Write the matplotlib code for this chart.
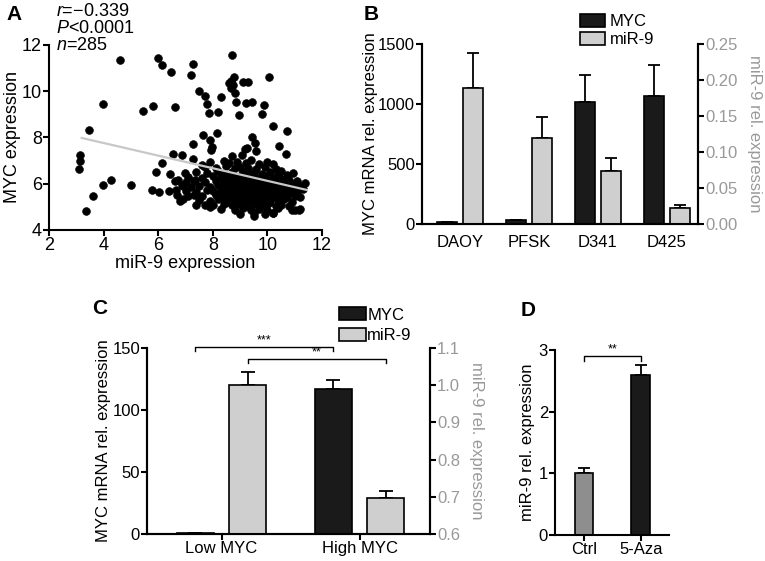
import matplotlib
matplotlib.use("Agg")
import matplotlib.pyplot as plt
from matplotlib.patches import Patch
import numpy as np

plt.rcParams['font.family'] = ['Liberation Sans', 'DejaVu Sans']
plt.rcParams['mathtext.fontset'] = 'custom'
plt.rcParams['mathtext.rm'] = 'Liberation Sans'
plt.rcParams['mathtext.it'] = 'Liberation Sans:italic'
plt.rcParams['axes.linewidth'] = 1.5
plt.rcParams['xtick.major.width'] = 1.5
plt.rcParams['ytick.major.width'] = 1.5
plt.rcParams['xtick.major.size'] = 4
plt.rcParams['ytick.major.size'] = 4
FS = 12
FSA = 13

# ---------------- Panel A data (scatter) ----------------
mir9_sparse = [3.13, 3.13, 3.10, 3.34, 3.48, 3.62, 3.99, 3.99, 4.27, 4.60, 5.00, 5.43, 5.82, 6.00,
               6.15, 6.47, 6.62, 5.76, 6.04, 5.92, 6.15, 6.55, 6.86, 6.43, 6.41, 6.64, 6.74, 6.88,
               6.68, 6.80, 7.26, 7.20, 8.69, 10.07, 8.60, 8.68, 8.78, 8.65, 8.75, 9.10, 9.28, 7.49,
               7.71, 8.30, 8.81, 7.77, 8.85, 9.20, 9.42, 9.89, 7.87, 8.20, 8.97, 9.79, 10.22, 10.70,
               7.63, 7.90, 7.97, 8.14, 7.26, 9.42, 9.55, 9.24, 10.44, 10.68, 9.58, 9.18, 9.06, 8.69,
               7.26, 7.59, 10.95, 11.38, 9.50, 10.22, 11.00, 11.17, 7.95, 6.98, 7.35, 6.90, 7.10,
               7.40, 7.90]
myc_sparse = [7.24, 7.00, 6.63, 4.84, 8.33, 5.47, 9.44, 5.93, 6.16, 11.36, 5.95, 9.15, 9.38, 11.43,
              11.14, 10.85, 9.34, 5.73, 5.66, 6.52, 6.89, 7.29, 7.25, 6.42, 5.70, 5.73, 6.16, 5.95,
              5.52, 5.27, 11.19, 10.71, 11.58, 10.61, 10.35, 10.45, 10.60, 10.15, 10.25, 10.40, 10.40, 10.03,
              9.80, 9.73, 9.94, 9.44, 9.55, 9.50, 9.55, 9.41, 9.08, 9.12, 8.98, 9.02, 8.50, 8.26,
              8.11, 7.90, 7.60, 8.19, 7.72, 8.04, 7.75, 7.54, 7.64, 7.28, 7.43, 7.49, 7.25, 7.20,
              7.06, 6.81, 6.45, 6.05, 4.60, 4.75, 4.87, 4.87, 7.45, 6.45, 6.16, 5.35, 5.45,
              5.08, 4.98]

mir9_dense = [7.9, 8.4, 8.6, 8.9, 9.2, 9.4, 9.7, 10.0, 10.2,
              7.7, 8.1, 8.5, 8.8, 9.0, 9.3, 9.6, 9.9, 10.3, 10.5,
              7.4, 7.8, 8.2, 8.4, 8.7, 9.1, 9.3, 9.5, 9.8, 10.1, 10.4, 10.7,
              7.1, 7.6, 8.0, 8.3, 8.6, 8.8, 9.0, 9.2, 9.5, 9.7, 9.9, 10.2, 10.5, 10.8, 11.1,
              6.6, 7.0, 7.3, 7.7, 8.1, 8.4, 8.7, 8.9, 9.1, 9.4, 9.6, 9.8, 10.0, 10.3, 10.6, 10.9, 11.2,
              6.9, 7.2, 7.5, 7.9, 8.2, 8.5, 8.8, 9.0, 9.3, 9.5, 9.7, 10.0, 10.2, 10.4, 10.7, 11.0, 11.3,
              7.0, 7.4, 7.8, 8.0, 8.3, 8.6, 8.9, 9.1, 9.4, 9.6, 9.9, 10.1, 10.3, 10.6, 10.8, 11.1,
              7.3, 7.6, 8.1, 8.4, 8.7, 8.9, 9.2, 9.5, 9.7, 10.0, 10.2, 10.5, 10.7, 11.0, 11.2,
              7.5, 7.9, 8.2, 8.5, 8.8, 9.0, 9.3, 9.6, 9.8, 10.1, 10.4, 10.6, 10.9,
              7.7, 8.0, 8.4, 8.7, 9.0, 9.2, 9.5, 9.8, 10.0, 10.3, 10.5, 10.8,
              8.3, 8.8, 9.1, 9.4, 9.7, 10.0, 10.4, 10.9, 11.2,
              9.0, 9.5, 9.9, 10.2]
myc_dense = [6.92, 7.00, 6.88, 6.95, 6.90, 7.02, 6.86, 6.93, 6.85,
             6.72, 6.68, 6.75, 6.66, 6.74, 6.70, 6.64, 6.71, 6.62, 6.55,
             6.50, 6.46, 6.53, 6.44, 6.49, 6.52, 6.45, 6.48, 6.42, 6.50, 6.40, 6.36,
             6.30, 6.26, 6.33, 6.28, 6.31, 6.24, 6.35, 6.27, 6.29, 6.22, 6.32, 6.25, 6.20, 6.18, 6.12,
             6.10, 6.06, 6.12, 6.08, 6.14, 6.05, 6.11, 6.07, 6.13, 6.04, 6.09, 6.12, 6.03, 6.08, 6.00, 5.98, 5.92,
             5.90, 5.86, 5.92, 5.88, 5.94, 5.85, 5.91, 5.87, 5.93, 5.84, 5.89, 5.92, 5.83, 5.88, 5.80, 5.86, 5.78,
             5.70, 5.66, 5.72, 5.68, 5.74, 5.65, 5.71, 5.67, 5.73, 5.64, 5.69, 5.72, 5.63, 5.68, 5.60, 5.66,
             5.50, 5.46, 5.52, 5.48, 5.54, 5.45, 5.51, 5.47, 5.53, 5.44, 5.49, 5.52, 5.43, 5.48, 5.42,
             5.30, 5.26, 5.32, 5.28, 5.34, 5.25, 5.31, 5.27, 5.33, 5.24, 5.29, 5.32, 5.23,
             5.10, 5.06, 5.12, 5.08, 5.14, 5.05, 5.11, 5.07, 5.13, 5.04, 5.09, 5.02,
             4.92, 4.88, 4.94, 4.86, 4.91, 4.87, 4.93, 4.85, 4.89,
             4.70, 4.74, 4.68, 4.72]

mir9_core = [8.45, 8.75, 9.05, 9.35, 9.65, 9.95, 10.25, 10.55,
             8.35, 8.65, 8.95, 9.25, 9.55, 9.85, 10.15, 10.45, 10.75,
             8.45, 8.75, 9.05, 9.35, 9.65, 9.95, 10.25, 10.55, 10.90,
             8.25, 8.55, 8.85, 9.15, 9.45, 9.75, 10.05, 10.35, 10.65,
             8.35, 8.65, 8.95, 9.25, 9.55, 9.85, 10.15, 10.45,
             8.55, 8.85, 9.15, 9.45, 9.75, 10.05]
myc_core = [6.20, 6.18, 6.22, 6.16, 6.21, 6.17, 6.19, 6.15,
            6.00, 5.97, 6.02, 5.99, 5.96, 6.01, 5.98, 5.95, 5.99,
            5.80, 5.78, 5.82, 5.79, 5.81, 5.77, 5.80, 5.78, 5.76,
            5.60, 5.58, 5.62, 5.59, 5.61, 5.57, 5.60, 5.58, 5.56,
            5.40, 5.38, 5.42, 5.39, 5.41, 5.37, 5.40, 5.36,
            5.20, 5.18, 5.22, 5.19, 5.21, 5.17]

fit_x = [3.2, 11.45]
fit_y = [7.98, 5.73]
stats_lines = ["$r$=\u22120.339", "$P$<0.0001", "$n$=285"]

# ---------------- Panel B data ----------------
cell_lines = ["DAOY", "PFSK", "D341", "D425"]
b_myc = [15, 35, 1015, 1065]
b_myc_err = [0, 0, 225, 260]
b_mir9 = [0.189, 0.119, 0.074, 0.0217]
b_mir9_err = [0.0485, 0.030, 0.018, 0.005]

# ---------------- Panel C data ----------------
groups_c = ["Low MYC", "High MYC"]
c_myc = [1, 117]
c_myc_err = [0, 7]
c_mir9 = [1.0, 0.697]
c_mir9_err = [0.035, 0.019]

# ---------------- Panel D data ----------------
groups_d = ["Ctrl", "5-Aza"]
d_mir9 = [1.0, 2.6]
d_mir9_err = [0.08, 0.15]

BLACK = "#1a1a1a"
LGRAY = "#cfcfcf"
MGRAY = "#8e8e8e"
TGRAY = "#999999"

W, H = 765, 561
fig = plt.figure(figsize=(W / 100, H / 100), dpi=100)


def px_axes(l, t, r, b):
    return fig.add_axes([l / W, 1 - b / H, (r - l) / W, (b - t) / H])


# ---------------- Panel A ----------------
axA = px_axes(49, 45, 322, 230)
axA.scatter(mir9_sparse + mir9_dense + mir9_core, myc_sparse + myc_dense + myc_core, s=32,
            color="black", edgecolors="black", linewidths=0.4, zorder=2)
axA.plot(fit_x, fit_y, color="#c8c8c8", lw=1.6, zorder=3)
axA.set_xlim(2, 12)
axA.set_ylim(4, 12)
axA.set_xticks([2, 4, 6, 8, 10, 12])
axA.set_yticks([4, 6, 8, 10, 12])
axA.spines[['top', 'right']].set_visible(False)
axA.tick_params(labelsize=FSA, pad=1)
axA.set_xlabel("miR-9 expression", fontsize=FSA, labelpad=1)
axA.set_ylabel("MYC expression", fontsize=FSA, labelpad=1)
for i, s in enumerate(stats_lines):
    fig.text(56 / W, 1 - (11 + 17.5 * i) / H, s, fontsize=FSA, va='center', ha='left')
fig.text(6 / W, 1 - 14 / H, "A", fontsize=15, fontweight='bold', va='center', ha='left')

# ---------------- Panel B ----------------
axB = px_axes(422, 44, 698, 224)
axB2 = axB.twinx()
xb = np.arange(len(cell_lines))
bw = 0.29
off = 0.185
axB.bar(xb - off, b_myc, bw, color=BLACK, edgecolor="black", lw=1.2, zorder=2)
axB.errorbar(xb - off, b_myc, yerr=[np.zeros(4), b_myc_err], fmt='none', ecolor='black',
             elinewidth=1.3, capsize=4, capthick=1.3, zorder=1)
axB2.bar(xb + off, b_mir9, bw, color=LGRAY, edgecolor="black", lw=1.2, zorder=2)
axB2.errorbar(xb + off, b_mir9, yerr=[np.zeros(4), b_mir9_err], fmt='none', ecolor='black',
              elinewidth=1.3, capsize=4, capthick=1.3, zorder=1)
axB.set_xlim(-0.55, 3.45)
axB.set_ylim(0, 1500)
axB2.set_ylim(0, 0.25)
axB.set_yticks([0, 500, 1000, 1500])
axB2.set_yticks([0, 0.05, 0.10, 0.15, 0.20, 0.25])
axB2.set_yticklabels(["0.00", "0.05", "0.10", "0.15", "0.20", "0.25"])
axB.set_xticks(xb)
axB.set_xticklabels(cell_lines)
axB.tick_params(axis='x', length=0, pad=8, labelsize=FS)
axB.tick_params(axis='y', labelsize=FS, pad=1)
axB2.tick_params(axis='y', labelsize=FS, labelcolor=TGRAY, pad=1)
for a in (axB, axB2):
    a.spines['top'].set_visible(False)
axB.set_ylabel("MYC mRNA rel. expression", fontsize=FS, labelpad=0)
axB2.set_ylabel("miR-9 rel. expression", fontsize=FS, color=TGRAY, rotation=270, labelpad=18)
axB.legend([Patch(facecolor=BLACK, edgecolor='black', lw=1.2),
            Patch(facecolor=LGRAY, edgecolor='black', lw=1.2)], ["MYC", "miR-9"],
           loc='lower left', bbox_to_anchor=(580 / W, 1 - 47 / H), bbox_transform=fig.transFigure,
           frameon=False, fontsize=FS, handlelength=1.5, handleheight=0.85, borderpad=0,
           borderaxespad=0, labelspacing=0.15, handletextpad=0.3)
fig.text(364 / W, 1 - 14 / H, "B", fontsize=15, fontweight='bold', va='center', ha='left')

# ---------------- Panel C ----------------
axC = px_axes(147, 348, 430, 534)
axC2 = axC.twinx()
xc = np.arange(len(groups_c))
cw = 0.27
coff = 0.19
axC.bar(xc - coff, c_myc, cw, color=BLACK, edgecolor="black", lw=1.2, zorder=2)
axC.errorbar(xc - coff, c_myc, yerr=[np.zeros(2), c_myc_err], fmt='none', ecolor='black',
             elinewidth=1.3, capsize=5, capthick=1.3, zorder=1)
c_base = 0.6
axC2.bar(xc + coff, np.array(c_mir9) - c_base, cw, bottom=c_base, color=LGRAY,
         edgecolor="black", lw=1.2, zorder=2)
axC2.errorbar(xc + coff, c_mir9, yerr=[np.zeros(2), c_mir9_err], fmt='none', ecolor='black',
              elinewidth=1.3, capsize=5, capthick=1.3, zorder=1)
axC.set_xlim(-0.54, 1.51)
axC.set_ylim(0, 150)
axC2.set_ylim(0.6, 1.1)
axC.set_yticks([0, 50, 100, 150])
axC2.set_yticks([0.6, 0.7, 0.8, 0.9, 1.0, 1.1])
axC.set_xticks(xc)
axC.set_xticklabels(groups_c)
axC.tick_params(axis='x', labelsize=FS, pad=1)
axC.tick_params(axis='y', labelsize=FS, pad=1)
axC2.tick_params(axis='y', labelsize=FS, labelcolor=TGRAY, pad=1)
for a in (axC, axC2):
    a.spines['top'].set_visible(False)
axC.set_ylabel("MYC mRNA rel. expression", fontsize=FS, labelpad=1)
axC2.set_ylabel("miR-9 rel. expression", fontsize=FS, color=TGRAY, rotation=270, labelpad=17)
for (x0, x1, yl, yt, lab) in [(0 - coff, 1 - coff, 150.8, 147.5, "***"),
                              (0 + coff, 1 + coff, 141.0, 137.7, "**")]:
    axC.plot([x0, x0, x1, x1], [yt, yl, yl, yt], color='black', lw=1.0, clip_on=False, zorder=5)
    axC.text((x0 + x1) / 2, yl + 0.3, lab, ha='center', va='bottom', fontsize=9, clip_on=False)
axC.legend([Patch(facecolor=BLACK, edgecolor='black', lw=1.2),
            Patch(facecolor=LGRAY, edgecolor='black', lw=1.2)], ["MYC", "miR-9"],
           loc='lower left', bbox_to_anchor=(339 / W, 1 - 343 / H), bbox_transform=fig.transFigure,
           frameon=False, fontsize=FS, handlelength=1.6, handleheight=0.85, borderpad=0,
           borderaxespad=0, labelspacing=0.3, handletextpad=0.1)
fig.text(92 / W, 1 - 309 / H, "C", fontsize=15, fontweight='bold', va='center', ha='left')

# ---------------- Panel D ----------------
axD = px_axes(555, 350, 669, 535)
xd = np.arange(len(groups_d))
axD.bar(xd, d_mir9, 0.33, color=[MGRAY, BLACK], edgecolor="black", lw=1.2, zorder=2)
axD.errorbar(xd, d_mir9, yerr=[np.zeros(2), d_mir9_err], fmt='none', ecolor='black',
             elinewidth=1.3, capsize=4, capthick=1.3, zorder=1)
axD.set_xlim(-0.51, 1.5)
axD.set_ylim(0, 3)
axD.set_yticks([0, 1, 2, 3])
axD.set_xticks(xd)
axD.set_xticklabels(groups_d)
axD.tick_params(labelsize=FS, pad=1)
axD.spines[['top', 'right']].set_visible(False)
axD.set_ylabel("miR-9 rel. expression", fontsize=FS, labelpad=3)
axD.plot([0, 0, 1, 1], [2.82, 2.9, 2.9, 2.82], color='black', lw=1.0, clip_on=False)
axD.text(0.5, 2.91, "**", ha='center', va='bottom', fontsize=9, clip_on=False)
fig.text(521 / W, 1 - 311 / H, "D", fontsize=15, fontweight='bold', va='center', ha='left')

fig.savefig("out.png", dpi=100)
